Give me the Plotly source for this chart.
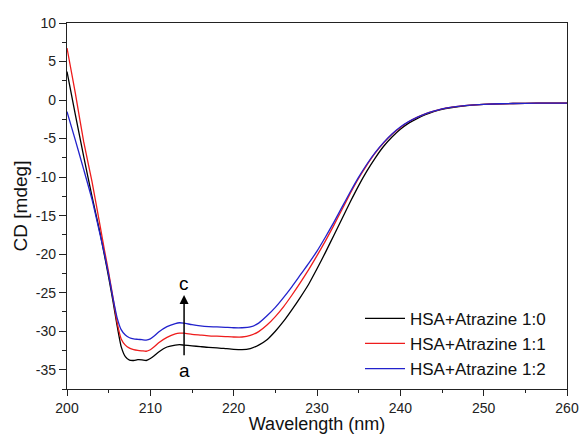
import plotly.graph_objects as go

wavelength = [200, 201, 202, 203, 204, 204.5, 205, 205.5, 206, 206.5, 207, 207.5, 208, 208.5,
              209, 209.5, 210, 210.5, 211, 212, 213, 213.5, 214, 215, 216, 217, 218, 219, 220,
              221, 222, 223, 224, 225, 226, 227, 228, 229, 230, 231, 232, 233, 234, 235, 236,
              237, 238, 239, 240, 241, 242, 243, 244, 245, 246, 248, 250, 252, 255, 258, 260]

cd_1_0 = [3.7, -1.9, -7.3, -12.5, -17.4, -20.2, -23.0, -26.0, -29.2, -32.0, -33.3, -33.75, -33.8, -33.7,
          -33.72, -33.8, -33.55, -33.15, -32.7, -32.05, -31.8, -31.75, -31.8, -31.9, -32.0, -32.1, -32.15, -32.25, -32.35,
          -32.4, -32.25, -31.8, -31.1, -30.0, -28.7, -27.2, -25.6, -23.9, -21.9, -19.8, -17.6, -15.4, -13.2, -11.1, -9.2,
          -7.5, -6.0, -4.8, -3.8, -3.0, -2.4, -1.9, -1.5, -1.2, -1.0, -0.72, -0.56, -0.48, -0.42, -0.4, -0.4]

cd_1_1 = [6.75, 0.9, -5.4, -10.6, -16.5, -19.5, -22.4, -25.5, -28.8, -31.0, -31.8, -32.2, -32.4, -32.5,
          -32.55, -32.6, -32.4, -32.0, -31.5, -30.8, -30.35, -30.25, -30.25, -30.4, -30.5, -30.6, -30.65, -30.7, -30.75,
          -30.75, -30.55, -30.05, -29.2, -28.1, -26.8, -25.3, -23.7, -22.0, -20.2, -18.3, -16.3, -14.2, -12.1, -10.15, -8.4,
          -6.85, -5.55, -4.45, -3.55, -2.82, -2.25, -1.8, -1.45, -1.15, -0.95, -0.7, -0.55, -0.48, -0.42, -0.4, -0.4]

cd_1_2 = [-1.5, -5.2, -9.0, -12.9, -17.6, -20.0, -22.7, -25.6, -28.2, -29.8, -30.5, -30.85, -31.0, -31.05,
          -31.1, -31.15, -31.0, -30.6, -30.1, -29.4, -29.0, -28.9, -28.95, -29.15, -29.3, -29.4, -29.45, -29.5, -29.55,
          -29.55, -29.45, -28.95, -28.0, -26.9, -25.6, -24.2, -22.7, -21.2, -19.6, -17.8, -15.9, -13.9, -11.9, -10.0, -8.3,
          -6.8, -5.5, -4.4, -3.5, -2.8, -2.25, -1.8, -1.45, -1.15, -0.95, -0.7, -0.55, -0.48, -0.42, -0.4, -0.4]

series_names = ["HSA+Atrazine 1:0", "HSA+Atrazine 1:1", "HSA+Atrazine 1:2"]
series_values = [cd_1_0, cd_1_1, cd_1_2]
series_colors = ["#000000", "#ee1c1c", "#2222cc"]

x_ticks = [200, 210, 220, 230, 240, 250, 260]
x_tick_labels = ["200", "210", "220", "230", "240", "250", "260"]
y_ticks = [-35, -30, -25, -20, -15, -10, -5, 0, 5, 10]
y_tick_labels = ["-35", "-30", "-25", "-20", "-15", "-10", "-5", "0", "5", "10"]

arrow_x = 214.05
arrow_start = -33.3
arrow_end = -25.3
label_a_y = -35.1
label_c_y = -23.8

FONT = "Arial, 'Liberation Sans', sans-serif"

fig = go.Figure()
for name, vals, col in zip(series_names, series_values, series_colors):
    fig.add_trace(go.Scatter(x=wavelength, y=vals, mode="lines", name=name,
                             line=dict(color=col, width=1.3, shape="spline", smoothing=0.5)))

fig.add_annotation(x=arrow_x, y=arrow_end, ax=arrow_x, ay=arrow_start, xref="x", yref="y",
                   axref="x", ayref="y", showarrow=True, arrowhead=2, arrowsize=1.2,
                   arrowwidth=1.5, arrowcolor="#000000", text="")
fig.add_annotation(x=arrow_x, y=label_a_y, text="a", showarrow=False,
                   font=dict(family=FONT, size=19, color="#000000"))
fig.add_annotation(x=arrow_x, y=label_c_y, text="c", showarrow=False,
                   font=dict(family=FONT, size=19, color="#000000"))

axis_common = dict(showline=True, linecolor="#222222", linewidth=1.3, mirror=True,
                   showgrid=False, zeroline=False, ticks="outside", tickcolor="#222222",
                   tickwidth=1.2, automargin=False,
                   tickfont=dict(family=FONT, size=14, color="#222222"))

fig.update_xaxes(range=[200, 260], tickvals=x_ticks, ticktext=x_tick_labels, ticklen=6,
                 ticklabelstandoff=0,
                 minor=dict(dtick=5, ticklen=3, ticks="outside", tickcolor="#222222", tickwidth=1.2),
                 title=dict(text="Wavelength (nm)", font=dict(family=FONT, size=18, color="#111111"), standoff=5),
                 **axis_common)
fig.update_yaxes(range=[-37.5, 10], tickvals=y_ticks, ticktext=y_tick_labels, ticklen=7,
                 minor=dict(dtick=2.5, ticklen=4, ticks="outside", tickcolor="#222222", tickwidth=1.2),
                 title=dict(text="CD [mdeg]", font=dict(family=FONT, size=19, color="#111111"), standoff=3),
                 **axis_common)

fig.update_layout(
    width=580, height=434,
    margin=dict(l=67, r=13, t=23, b=45),
    paper_bgcolor="white", plot_bgcolor="white",
    font=dict(family=FONT, color="#111111"),
    legend=dict(x=0.968, y=0.006, xanchor="right", yanchor="bottom", bgcolor="rgba(0,0,0,0)",
                font=dict(family=FONT, size=17, color="#111111"), tracegroupgap=0,
                itemwidth=40),
    showlegend=True,
)

fig.write_html("out.html", config={"displayModeBar": False},
               post_script="document.body.style.margin='0';document.body.style.overflow='hidden';")
